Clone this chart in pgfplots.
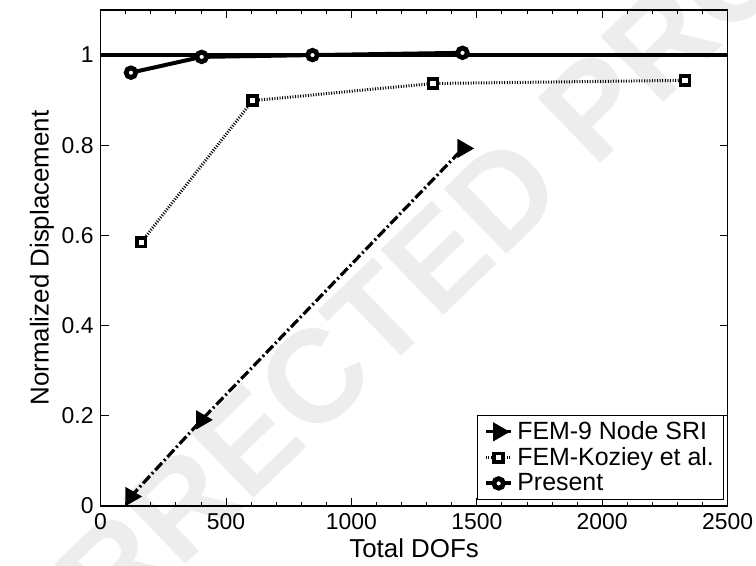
\documentclass[border=0pt]{standalone}
\usepackage{fontspec}
\setmainfont{Liberation Sans}
\usepackage{pgfplots}
\pgfplotsset{compat=1.18}

\begin{document}
\begin{tikzpicture}[font=\fontsize{12}{14}\selectfont]
% watermark behind everything
\node[rotate=44, text=black!7, font=\fontsize{66}{68}\bfseries\selectfont, inner sep=0pt]
    at (125bp,82bp) {UNCORRECTED PROOF};
\begin{axis}[
    name=ax,
    at={(0,0)}, anchor=south west,
    scale only axis,
    width=313.5bp, height=248bp,
    xmin=0, xmax=2500,
    ymin=0, ymax=1.1,
    xtick={0,500,1000,1500,2000,2500},
    ytick={0,0.2,0.4,0.6,0.8,1},
    minor x tick num=4,
    tick align=inside,
    major tick length=4bp,
    minor tick length=2bp,
    tick style={black, line width=0.4pt},
    axis line style={line width=0.8pt},
    xlabel={Total DOFs},
    ylabel={Normalized Displacement},
    label style={font=\fontsize{13}{15}\selectfont},
    xlabel style={yshift=2pt},
    ylabel style={yshift=-3pt},
    /pgf/number format/assume math mode=true,
    ticklabel style={font=\fontsize{11.5}{13}\selectfont},
    scaled ticks=false,
    xticklabel style={/pgf/number format/1000 sep={}},
    legend style={at={(0.995,0.012)}, anchor=south east, draw=black, fill=white,
        line width=0.6pt, font=\fontsize{12.5}{13}\selectfont,
        inner xsep=3pt, inner ysep=1pt, row sep=-1.5pt},
    legend cell align=left,
    legend image code/.code={
        \draw[#1] (0cm,0cm) -- (0.45cm,0cm);
        \draw[#1, solid] plot coordinates {(0.225cm,0cm)};
    },
]
\addplot[black, line width=1.6pt, dash pattern=on 5pt off 1.5pt on 1pt off 1.5pt,
    mark=triangle*, mark size=4pt, mark options={solid, rotate=-90, fill=black}]
    coordinates {(121,0.021) (403,0.191) (1445,0.793)};
\addlegendentry{FEM-9 Node SRI}

\addplot[black, line width=1.5pt, dash pattern=on 0.5pt off 0.8pt,
    mark=square*, mark size=2.2pt, mark options={solid, fill=white, line width=1.8pt}]
    coordinates {(162,0.585) (606,0.899) (1325,0.937) (2330,0.944)};
\addlegendentry{FEM-Koziey et al.}

\addplot[black, line width=2pt,
    mark=*, mark size=2.4pt, mark options={solid, fill=white, line width=2.4pt}]
    coordinates {(121,0.961) (403,0.996) (845,1.000) (1443,1.005)};
\addlegendentry{Present}

\draw[black, line width=2pt] (axis cs:0,1) -- (axis cs:2500,1);
\end{axis}
\pgfresetboundingbox
\path (-50.3bp,-30bp) rectangle (327.7bp,253bp);
\end{tikzpicture}
\end{document}
